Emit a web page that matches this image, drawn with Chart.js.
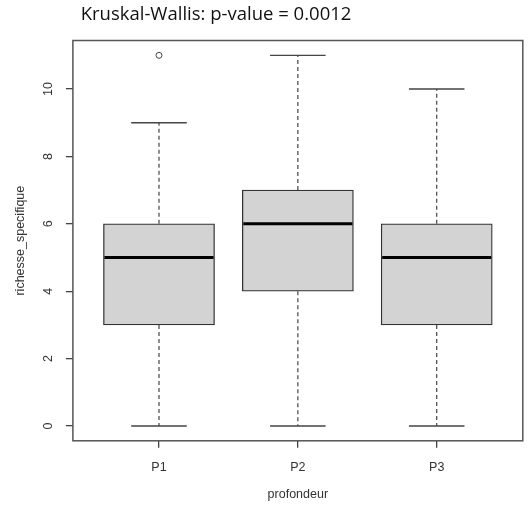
<!DOCTYPE html>
<html>
<head>
<meta charset="utf-8">
<script src="https://cdn.jsdelivr.net/npm/chart.js@4/dist/chart.umd.min.js"></script>
<style>
  html, body { margin: 0; padding: 0; background: #fff; }
  #wrap { width: 531px; height: 510px; position: relative; }
</style>
</head>
<body>
<div id="wrap"><canvas id="c"></canvas></div>
<script>
// Species richness by depth class
const groups = ['P1', 'P2', 'P3'];
const whiskerLow = [0, 0, 0];
const q1 = [3, 4, 3];
const medians = [5, 6, 5];
const q3 = [6, 7, 6];
const whiskerHigh = [9, 11, 10];
const outliers = [[11], [], []];
const yTicks = [0, 2, 4, 6, 8, 10];

const titleText = 'Kruskal-Wallis: p-value = 0.0012';
const xTitle = 'profondeur';
const yTitle = 'richesse_specifique';

// Plot region inside the 531x510 canvas
const W = 531, H = 510;
const PLOT_LEFT = 72.9, PLOT_TOP = 40.5, PLOT_RIGHT = 522.8, PLOT_BOTTOM = 440.8;

// Axis ranges padded by 4% as in base R graphics
const dataMin = Math.min(...whiskerLow);
const dataMax = Math.max(...whiskerHigh, ...outliers.flat());
const ySpan = dataMax - dataMin;
const yMin = dataMin - 0.04 * ySpan, yMax = dataMax + 0.04 * ySpan;
const xMin = 0.5 - 0.04 * 3, xMax = 3.5 + 0.04 * 3;
const BOX_W = 0.8; // box width in x units
const boxPx = (PLOT_RIGHT - PLOT_LEFT) * BOX_W / (xMax - xMin);

const axisFont = { family: '"Liberation Sans", Arial, sans-serif', size: 12.5 };
const textColor = '#333';

const boxes = groups.map((g, i) => ({ x: i + 1, y: [q1[i], q3[i]] }));
const outlierPts = [];
outliers.forEach((arr, i) => arr.forEach(v => outlierPts.push({ x: i + 1, y: v })));

// Whiskers, caps and medians drawn from the chart scales
const boxParts = {
  id: 'boxParts',
  beforeDatasetsDraw(chart) {
    const { ctx, scales: { x, y } } = chart;
    ctx.save();
    groups.forEach((g, i) => {
      const cx = x.getPixelForValue(i + 1);
      ctx.strokeStyle = '#444';
      ctx.lineWidth = 1.2;
      ctx.setLineDash([4, 3]);
      ctx.beginPath();
      ctx.moveTo(cx, y.getPixelForValue(q3[i]));
      ctx.lineTo(cx, y.getPixelForValue(whiskerHigh[i]));
      ctx.moveTo(cx, y.getPixelForValue(q1[i]));
      ctx.lineTo(cx, y.getPixelForValue(whiskerLow[i]));
      ctx.stroke();
      ctx.setLineDash([]);
      const l = x.getPixelForValue(i + 1 - BOX_W / 4);
      const r = x.getPixelForValue(i + 1 + BOX_W / 4);
      ctx.lineWidth = 1.4;
      ctx.beginPath();
      [whiskerHigh[i], whiskerLow[i]].forEach(v => {
        const py = y.getPixelForValue(v);
        ctx.moveTo(l, py);
        ctx.lineTo(r, py);
      });
      ctx.stroke();
    });
    ctx.restore();
  },
  afterDatasetsDraw(chart) {
    const { ctx, scales: { x, y } } = chart;
    ctx.save();
    ctx.strokeStyle = '#000';
    ctx.lineWidth = 3;
    groups.forEach((g, i) => {
      const l = x.getPixelForValue(i + 1 - BOX_W / 2);
      const r = x.getPixelForValue(i + 1 + BOX_W / 2);
      const py = y.getPixelForValue(medians[i]);
      ctx.beginPath();
      ctx.moveTo(l + 1, py);
      ctx.lineTo(r - 1, py);
      ctx.stroke();
    });
    ctx.restore();
  },
  afterDraw(chart) {
    const { ctx, chartArea: a, scales: { y } } = chart;
    ctx.save();
    // frame
    ctx.strokeStyle = '#555';
    ctx.lineWidth = 1.5;
    ctx.strokeRect(a.left, a.top, a.right - a.left, a.bottom - a.top);
    // vertical y tick labels
    ctx.fillStyle = textColor;
    ctx.font = axisFont.size + 'px ' + axisFont.family;
    ctx.textAlign = 'center';
    ctx.textBaseline = 'middle';
    yTicks.forEach(v => {
      ctx.save();
      ctx.translate(48.5, y.getPixelForValue(v));
      ctx.rotate(-Math.PI / 2);
      ctx.fillText(String(v), 0, 0);
      ctx.restore();
    });
    // heading
    ctx.fillStyle = '#111';
    ctx.font = '18.5px "Open Sans", sans-serif';
    ctx.textAlign = 'left';
    ctx.textBaseline = 'alphabetic';
    ctx.fillText(titleText, 80.7, 20);
    ctx.restore();
  }
};

new Chart(document.getElementById('c'), {
  data: {
    datasets: [
      {
        type: 'bar',
        data: boxes,
        backgroundColor: '#d3d3d3',
        borderColor: '#333',
        borderWidth: 1.3,
        borderSkipped: false,
        barThickness: boxPx
      },
      {
        type: 'scatter',
        data: outlierPts,
        pointStyle: 'circle',
        pointRadius: 3,
        backgroundColor: 'rgba(0,0,0,0)',
        borderColor: '#444',
        borderWidth: 1
      }
    ]
  },
  options: {
    responsive: true,
    maintainAspectRatio: false,
    animation: false,
    layout: { padding: { left: 0, top: PLOT_TOP, right: W - PLOT_RIGHT, bottom: 0 } },
    plugins: { legend: { display: false }, tooltip: { enabled: false } },
    scales: {
      x: {
        type: 'linear',
        position: 'bottom',
        offset: false,
        min: xMin,
        max: xMax,
        afterBuildTicks: s => { s.ticks = groups.map((g, i) => ({ value: i + 1 })); },
        afterFit: s => { s.height = H - PLOT_BOTTOM; },
        ticks: {
          callback: v => groups[v - 1],
          font: axisFont,
          color: textColor,
          padding: 12,
          maxRotation: 0,
          autoSkip: false
        },
        grid: { display: true, offset: false, drawOnChartArea: false, drawTicks: true, tickLength: 7, color: '#444', lineWidth: 1.3 },
        border: { display: false },
        title: { display: true, text: xTitle, font: axisFont, color: textColor, padding: { top: 0, bottom: 8 } }
      },
      y: {
        type: 'linear',
        position: 'left',
        min: yMin,
        max: yMax,
        afterBuildTicks: s => { s.ticks = yTicks.map(v => ({ value: v })); },
        afterFit: s => { s.width = PLOT_LEFT; },
        ticks: { display: false },
        grid: { display: true, drawOnChartArea: false, drawTicks: true, tickLength: 7, color: '#444', lineWidth: 1.3 },
        border: { display: false },
        title: { display: true, text: yTitle, font: axisFont, color: textColor, padding: { top: 13.5, bottom: 0 } }
      }
    }
  },
  plugins: [boxParts]
});
</script>
</body>
</html>
